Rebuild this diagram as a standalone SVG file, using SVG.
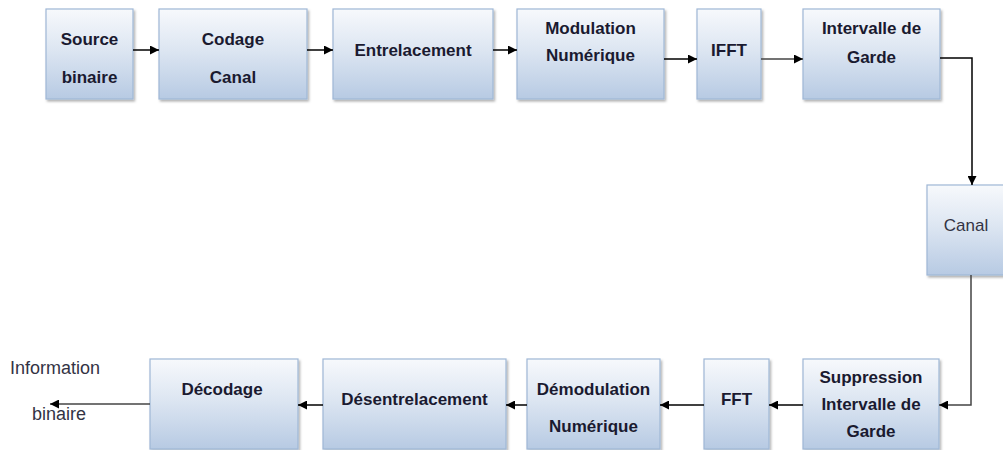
<svg xmlns="http://www.w3.org/2000/svg" width="1003" height="450" viewBox="0 0 1003 450">
<defs>
<linearGradient id="g" x1="0" y1="0" x2="0" y2="1">
<stop offset="0" stop-color="#f7f9fc"/>
<stop offset="0.45" stop-color="#dde6f2"/>
<stop offset="1" stop-color="#b7cae3"/>
</linearGradient>
<filter id="sh" x="-10%" y="-10%" width="125%" height="125%">
<feDropShadow dx="1.5" dy="2" stdDeviation="1" flood-color="#000" flood-opacity="0.3"/>
</filter>
<marker id="ah" viewBox="0 0 10 10" refX="10" refY="5" markerWidth="10" markerHeight="9" markerUnits="userSpaceOnUse" orient="auto">
<path d="M0,0 L10,5 L0,10 z" fill="#000"/>
</marker>
<style>
.box{fill:url(#g);stroke:#9fb7d6;stroke-width:1.2;filter:url(#sh)}
.t{font-family:"Liberation Sans",Arial,sans-serif;font-weight:bold;font-size:17px;fill:#1a1a30;text-anchor:middle}
.r{font-family:"Liberation Sans",Arial,sans-serif;font-size:18px;fill:#333344}
.c{fill:none;stroke:#000;stroke-width:1.5;marker-end:url(#ah)}
.c2{fill:none;stroke:#444;stroke-width:1.5;marker-end:url(#ah)}
</style>
</defs>

<g id="source">
<rect class="box" x="46" y="9" width="87" height="90"/>
<text class="t" x="89.5" y="45">Source</text>
<text class="t" x="89.5" y="83">binaire</text>
</g>
<g id="codage">
<rect class="box" x="159" y="9" width="148" height="90"/>
<text class="t" x="233" y="45">Codage</text>
<text class="t" x="233" y="83">Canal</text>
</g>
<g id="entrelacement">
<rect class="box" x="333" y="9" width="160" height="90"/>
<text class="t" x="413" y="56">Entrelacement</text>
</g>
<g id="modulation">
<rect class="box" x="517" y="9" width="147" height="90"/>
<text class="t" x="590.5" y="34">Modulation</text>
<text class="t" x="590.5" y="61">Numérique</text>
</g>
<g id="ifft">
<rect class="box" x="697" y="9" width="64" height="90"/>
<text class="t" x="729" y="56">IFFT</text>
</g>
<g id="intervalle">
<rect class="box" x="803" y="9" width="137" height="90"/>
<text class="t" x="871.5" y="34">Intervalle de</text>
<text class="t" x="871.5" y="63">Garde</text>
</g>
<g id="canal">
<rect class="box" x="927" y="185" width="80" height="90"/>
<text class="r" x="966" y="231" text-anchor="middle" style="font-size:17px">Canal</text>
</g>
<g id="suppression">
<rect class="box" x="803" y="359" width="136" height="90"/>
<text class="t" x="871" y="383">Suppression</text>
<text class="t" x="871" y="410">Intervalle de</text>
<text class="t" x="871" y="437">Garde</text>
</g>
<g id="fft">
<rect class="box" x="704" y="359" width="65" height="90"/>
<text class="t" x="736.5" y="405">FFT</text>
</g>
<g id="demodulation">
<rect class="box" x="527" y="359" width="133" height="90"/>
<text class="t" x="593.5" y="395">Démodulation</text>
<text class="t" x="593.5" y="432">Numérique</text>
</g>
<g id="desentrelacement">
<rect class="box" x="323" y="359" width="183" height="90"/>
<text class="t" x="414.5" y="405">Désentrelacement</text>
</g>
<g id="decodage">
<rect class="box" x="150" y="359" width="148" height="90"/>
<text class="t" x="222" y="395">Décodage</text>
</g>
<g id="sortie">
<text class="r" x="10" y="374">Information</text>
<text class="r" x="32" y="420">binaire</text>
</g>

<g id="connectors">
<line class="c" x1="133" y1="50" x2="159" y2="50"/>
<line class="c" x1="307" y1="50" x2="333" y2="50"/>
<line class="c" x1="493" y1="50" x2="517" y2="50"/>
<line class="c" x1="664" y1="59" x2="697" y2="59"/>
<line class="c2" x1="761" y1="59" x2="803" y2="59"/>
<polyline class="c" points="940,58 972,58 972,185"/>
<polyline class="c2" points="971,275 971,405 939,405"/>
<line class="c" x1="803" y1="405" x2="769" y2="405"/>
<line class="c" x1="704" y1="405" x2="660" y2="405"/>
<line class="c" x1="527" y1="405" x2="506" y2="405"/>
<line class="c" x1="323" y1="405" x2="298" y2="405"/>
<line class="c2" x1="150" y1="404" x2="50" y2="404"/>
</g>
</svg>
